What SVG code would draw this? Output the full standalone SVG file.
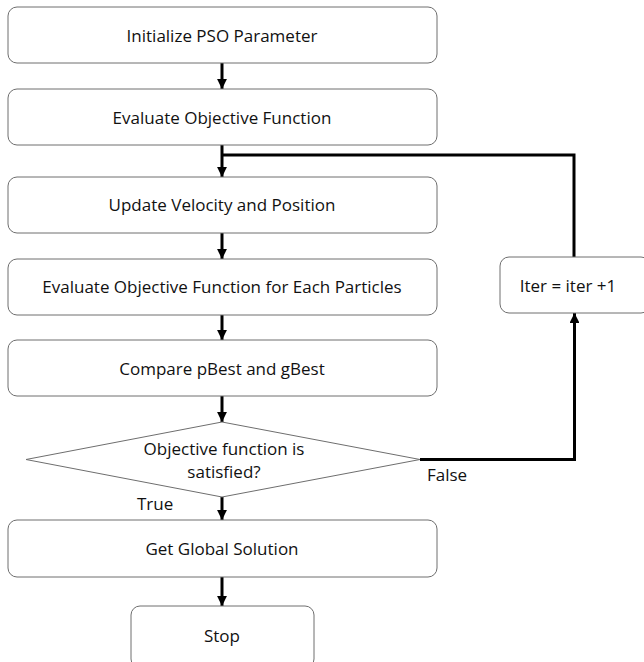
<svg xmlns="http://www.w3.org/2000/svg" width="644" height="662" viewBox="0 0 644 662">
<style>
.box{fill:#fff;stroke:#6e6e6e;stroke-width:1}
.t{font-family:"Open Sans","Liberation Sans",sans-serif;font-size:17px;fill:#111;text-anchor:middle;dominant-baseline:central}
.l{font-family:"Open Sans","Liberation Sans",sans-serif;font-size:17px;fill:#111}
.c{fill:none;stroke:#000;stroke-width:3}
</style>
<defs>
<marker id="ah" viewBox="0 0 10 10" refX="10" refY="5" markerWidth="3.3" markerHeight="3.3" orient="auto" markerUnits="strokeWidth">
<path d="M0,0 L10,5 L0,10 z" fill="#000"/>
</marker>
</defs>
<rect width="644" height="662" fill="#fff"/>
<g id="connectors">
<line class="c" x1="222" y1="63" x2="222" y2="89" marker-end="url(#ah)"/>
<line class="c" x1="222" y1="145" x2="222" y2="177" marker-end="url(#ah)"/>
<line class="c" x1="222" y1="233" x2="222" y2="259" marker-end="url(#ah)"/>
<line class="c" x1="222" y1="315" x2="222" y2="340" marker-end="url(#ah)"/>
<line class="c" x1="222" y1="396" x2="222" y2="422" marker-end="url(#ah)"/>
<line class="c" x1="222" y1="497" x2="222" y2="520" marker-end="url(#ah)"/>
<line class="c" x1="222" y1="577" x2="222" y2="606" marker-end="url(#ah)"/>
<polyline class="c" points="574,257 574,155 222,155"/>
<polyline class="c" points="420,459.5 574.5,459.5 574.5,313" marker-end="url(#ah)"/>
<text class="l" x="137" y="510">True</text>
<text class="l" x="427" y="481">False</text>
</g>
<g id="n1"><rect class="box" x="8" y="7" width="429" height="56" rx="9"/><text class="t" x="222" y="35">Initialize PSO Parameter</text></g>
<g id="n2"><rect class="box" x="8" y="89" width="429" height="56" rx="9"/><text class="t" x="222" y="117">Evaluate Objective Function</text></g>
<g id="n3"><rect class="box" x="8" y="177" width="429" height="56" rx="9"/><text class="t" x="222" y="204">Update Velocity and Position</text></g>
<g id="n4"><rect class="box" x="8" y="259" width="429" height="56" rx="9"/><text class="t" x="222" y="286">Evaluate Objective Function for Each Particles</text></g>
<g id="n5"><rect class="box" x="8" y="340" width="429" height="56" rx="9"/><text class="t" x="222" y="368">Compare pBest and gBest</text></g>
<g id="n6"><polygon class="box" points="26,459.5 222,422 420,459.5 222,497"/><text class="t" x="224" y="448">Objective function is</text><text class="t" x="224" y="471">satisfied?</text></g>
<g id="n7"><rect class="box" x="8" y="520" width="429" height="57" rx="9"/><text class="t" x="222" y="548">Get Global Solution</text></g>
<g id="n8"><rect class="box" x="131" y="606" width="183" height="62" rx="9"/><text class="t" x="222" y="635">Stop</text></g>
<g id="n9"><rect class="box" x="500" y="257" width="150" height="56" rx="9"/><text class="t" x="568" y="285">Iter = iter +1</text></g>
</svg>
